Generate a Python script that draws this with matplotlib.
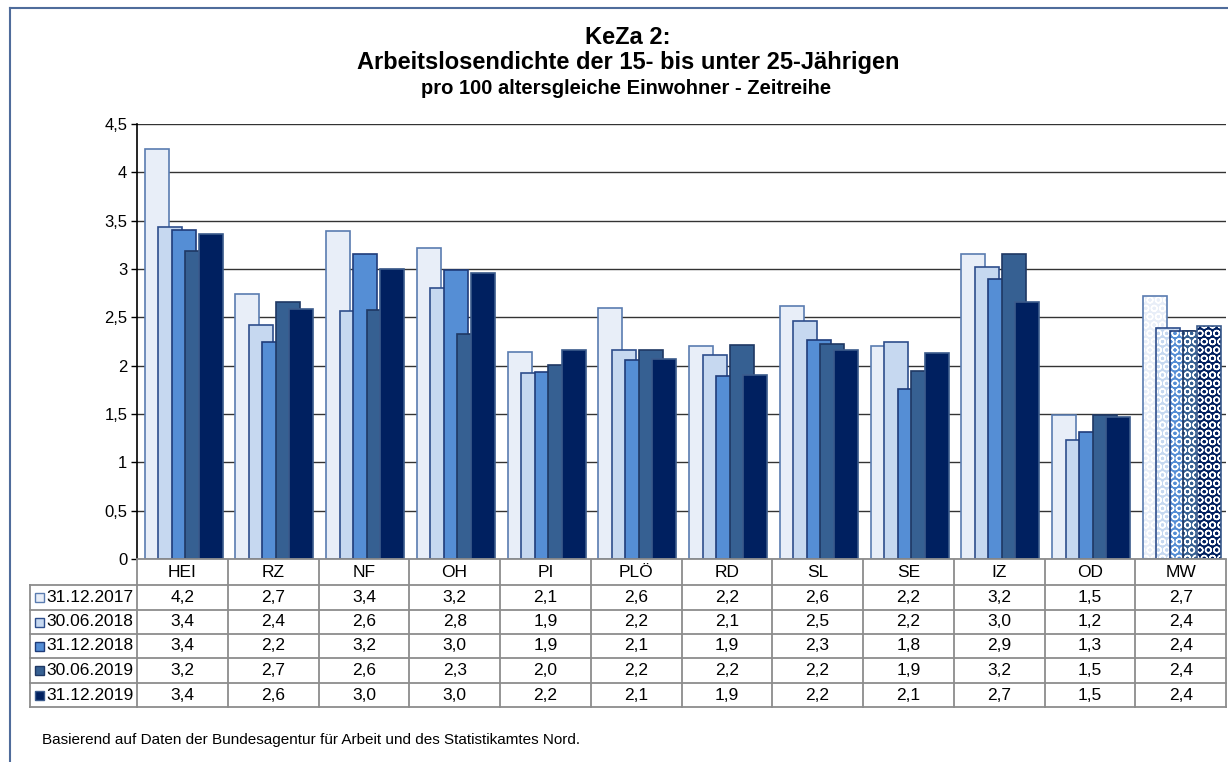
import matplotlib
matplotlib.use('Agg')
import matplotlib.pyplot as plt
from matplotlib.lines import Line2D
from matplotlib.patches import Rectangle
from matplotlib.ticker import FuncFormatter, MultipleLocator
from matplotlib.transforms import blended_transform_factory

plt.rcParams['font.family'] = ['Liberation Sans', 'DejaVu Sans']
plt.rcParams['hatch.linewidth'] = 1.0

# categories (districts) and the five reporting dates
categories = ['HEI', 'RZ', 'NF', 'OH', 'PI', 'PLÖ', 'RD', 'SL', 'SE', 'IZ', 'OD', 'MW']
dates = ['31.12.2017', '30.06.2018', '31.12.2018', '30.06.2019', '31.12.2019']

v_2017_12 = [4.24, 2.74, 3.39, 3.22, 2.14, 2.60, 2.20, 2.62, 2.20, 3.16, 1.49, 2.72]
v_2018_06 = [3.43, 2.42, 2.57, 2.80, 1.92, 2.16, 2.11, 2.46, 2.24, 3.02, 1.23, 2.39]
v_2018_12 = [3.40, 2.24, 3.16, 2.99, 1.93, 2.06, 1.89, 2.27, 1.76, 2.90, 1.31, 2.36]
v_2019_06 = [3.19, 2.66, 2.58, 2.33, 2.01, 2.16, 2.21, 2.22, 1.94, 3.16, 1.49, 2.36]
v_2019_12 = [3.36, 2.59, 3.00, 2.96, 2.16, 2.07, 1.90, 2.16, 2.13, 2.66, 1.47, 2.41]
series = [v_2017_12, v_2018_06, v_2018_12, v_2019_06, v_2019_12]

faces = ['#E8EEF8', '#C6D8F0', '#558ED5', '#366092', '#002060']
edges = ['#5A7CB0', '#2E4E8C', '#1F3C7A', '#1F3864', '#3B5B8C']

W, H = 1228, 762
fig = plt.figure(figsize=(W / 100, H / 100), dpi=100)
fig.patch.set_facecolor('white')


def fx(px):
    return px / W


def fy(py):
    return 1 - py / H


ax = fig.add_axes([fx(137), fy(559), fx(1226) - fx(137), fy(124) - fy(559)])

# bar layout: overlapping bars like the original spreadsheet chart
cat_px = (1226 - 137) / len(categories)
step = 13.5 / cat_px
bw = 24 / cat_px
x = list(range(len(categories)))

for i, vals in enumerate(series):
    xs = [c + (i - 2) * step + 0.015 for c in x]
    ax.bar(xs[:-1], vals[:-1], width=bw, color=faces[i], edgecolor=edges[i], linewidth=1.2)
    # MW (mean value) bars carry a dotted pattern
    ax.bar(xs[-1], vals[-1], width=bw, color=faces[i], edgecolor='white', hatch='OO', linewidth=0)
    ax.bar(xs[-1], vals[-1], width=bw, fill=False, edgecolor=edges[i], linewidth=1.2)

ax.set_xlim(-0.5, len(categories) - 0.5)
ax.set_ylim(0, 4.5)
ax.yaxis.set_major_locator(MultipleLocator(0.5))
ax.yaxis.set_major_formatter(FuncFormatter(lambda v, p: f'{v:g}'.replace('.', ',')))
ax.tick_params(axis='y', labelsize=12, length=4.5, width=1, direction='out', pad=2.5)
ax.set_xticks([])
ax.grid(axis='y', color='#333333', linewidth=1.0)
ax.set_axisbelow(True)
for s in ['top', 'right']:
    ax.spines[s].set_visible(False)
ax.spines['left'].set_linewidth(1.2)
ax.spines['bottom'].set_color('#8C8C8C')
ax.spines['bottom'].set_linewidth(1.3)

# data table below the axis
tr = blended_transform_factory(ax.transData, fig.transFigure)
tcol = '#8C8C8C'
rows_px = [560, 585, 610, 634, 658, 683, 707]
right = len(categories) - 0.5
fs_tab = 12.5

for b in range(len(categories) + 1):
    xb = b - 0.5
    fig.add_artist(Line2D([xb, xb], [fy(rows_px[0]), fy(rows_px[-1])], transform=tr,
                          color=tcol, linewidth=1.3))
for py in rows_px[1:]:
    fig.add_artist(Line2D([fx(30), fx(137)], [fy(py), fy(py)], transform=fig.transFigure,
                          color=tcol, linewidth=1.3))
    fig.add_artist(Line2D([-0.5, right], [fy(py), fy(py)], transform=tr,
                          color=tcol, linewidth=1.3))
fig.add_artist(Line2D([fx(30), fx(30)], [fy(rows_px[1]), fy(rows_px[-1])],
                      transform=fig.transFigure, color=tcol, linewidth=1.3))

for c, name in enumerate(categories):
    fig.text(c, fy((rows_px[0] + rows_px[1]) / 2), name, transform=tr,
             ha='center', va='center', fontsize=fs_tab)

for i, vals in enumerate(series):
    yc = fy((rows_px[i + 1] + rows_px[i + 2]) / 2)
    fig.add_artist(Rectangle((fx(35), yc - 4.5 / H), 9 / W, 9 / H, transform=fig.transFigure,
                             facecolor=faces[i], edgecolor=edges[i], linewidth=1))
    fig.text(fx(46), yc, dates[i], ha='left', va='center', fontsize=fs_tab)
    for c, v in enumerate(vals):
        fig.text(c, yc, f'{v:.1f}'.replace('.', ','), transform=tr,
                 ha='center', va='center', fontsize=fs_tab)

# titles
fig.text(fx(628), fy(37), 'KeZa 2:', ha='center', va='center', fontsize=17, fontweight='bold')
fig.text(fx(628), fy(63), 'Arbeitslosendichte der 15- bis unter 25-Jährigen',
         ha='center', va='center', fontsize=17, fontweight='bold')
fig.text(fx(626), fy(89), 'pro 100 altersgleiche Einwohner - Zeitreihe',
         ha='center', va='center', fontsize=14.5, fontweight='bold')

fig.text(fx(42), fy(740), 'Basierend auf Daten der Bundesagentur für Arbeit und des Statistikamtes Nord.',
         ha='left', va='center', fontsize=11)

# outer frame (right and bottom edges are outside the picture)
bcol = '#4F6C9B'
fig.add_artist(Line2D([fx(10), fx(10)], [0, fy(8)], transform=fig.transFigure, color=bcol, linewidth=1.5))
fig.add_artist(Line2D([fx(10), 1], [fy(8), fy(8)], transform=fig.transFigure, color=bcol, linewidth=1.5))

fig.savefig('out.png', dpi=100)
